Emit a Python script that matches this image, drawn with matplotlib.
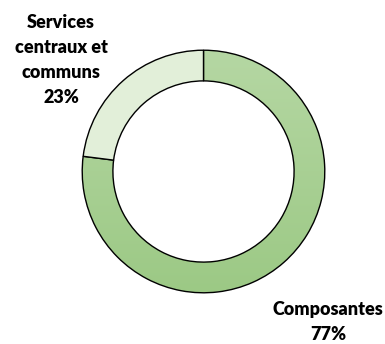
import matplotlib
matplotlib.use("Agg")
import matplotlib.pyplot as plt
import numpy as np
from matplotlib.colors import LinearSegmentedColormap

categories = ["Composantes", "Services centraux et\ncommuns"]
values = [77, 23]
colors = ["#a9d18e", "#e2efd9"]

fig = plt.figure(figsize=(3.85, 3.44), dpi=100)
ax = fig.add_axes([0, 0, 1, 1])
ax.set_xlim(0, 385)
ax.set_ylim(344, 0)
ax.set_aspect("equal")
ax.axis("off")

cx, cy, R, r = 203.5, 171.5, 122.5, 91.5
pax = fig.add_axes([(cx - R) / 385, 1 - (cy + R) / 344, 2 * R / 385, 2 * R / 344])
wedges, _ = pax.pie(values, colors=colors, startangle=90, counterclock=False,
                    radius=1, wedgeprops=dict(width=(R - r) / R, edgecolor="black", linewidth=1.0))
pax.set_aspect("equal")

cmap = LinearSegmentedColormap.from_list("g", ["#b5d7a3", "#9cc985"])
grad = np.linspace(0, 1, 256).reshape(-1, 1)
im = pax.imshow(grad, cmap=cmap, extent=[-1, 1, -1, 1], origin="upper", aspect="auto", zorder=0.5)
im.set_clip_path(wedges[0])
wedges[0].set_facecolor("none")
wedges[0].set_zorder(1)
pax.set_xlim(-1.01, 1.01)
pax.set_ylim(-1.01, 1.01)

fam = ["Lato", "DejaVu Sans"]
ax.text(61, 60, "Services\ncentraux et\ncommuns\n%d%%" % values[1], ha="center", va="center",
        fontsize=13, fontweight="heavy", family=fam, linespacing=1.58)
ax.text(328, 322, "%s\n%d%%" % (categories[0], values[0]), ha="center", va="center",
        fontsize=13, fontweight="heavy", family=fam, linespacing=1.58)

fig.savefig("out.png", dpi=100)
